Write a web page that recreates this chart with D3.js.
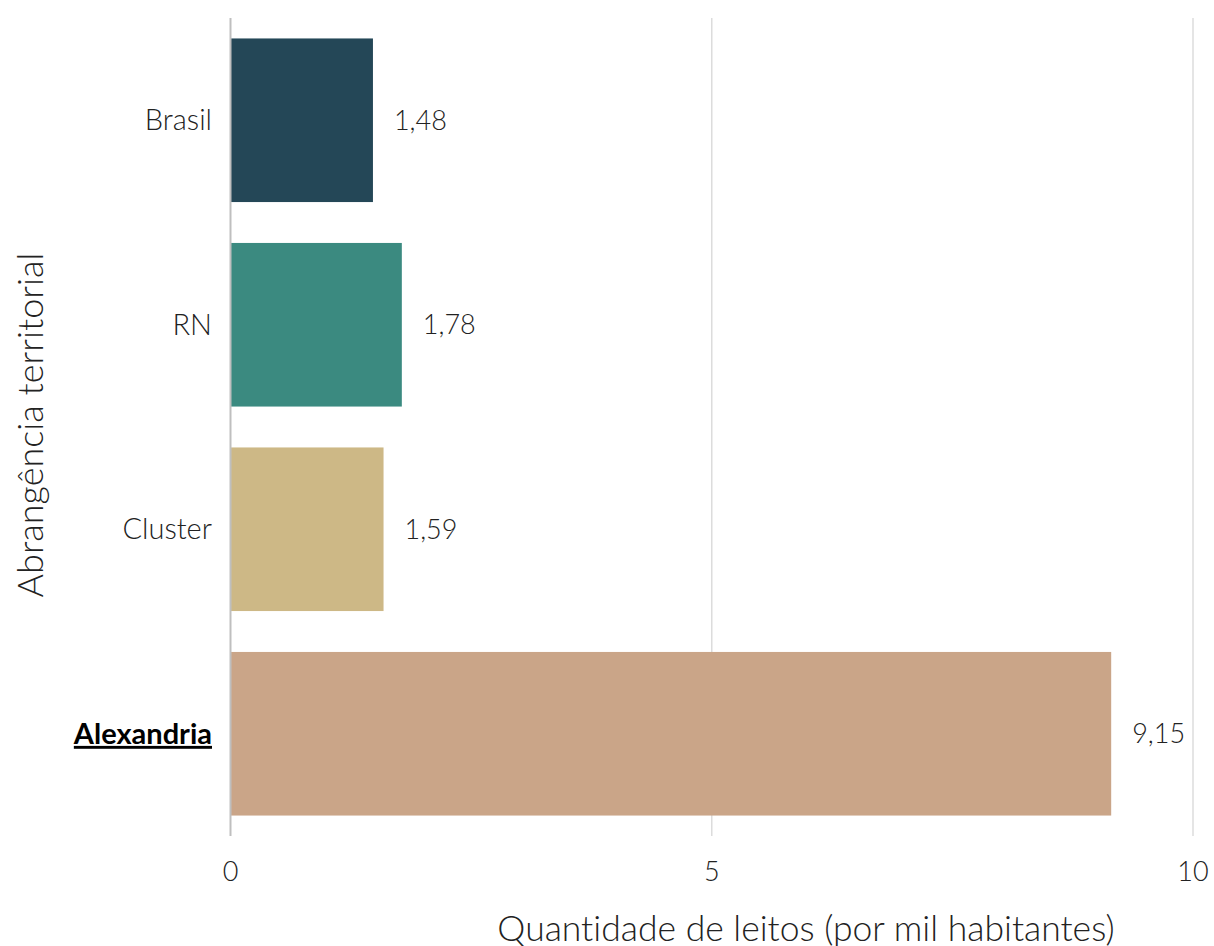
<!DOCTYPE html>
<html><head><meta charset="utf-8">
<script src="https://cdn.jsdelivr.net/npm/d3@7"></script>
<style>body{margin:0;background:#fff}svg{font-family:Lato,sans-serif;font-weight:300;font-variant-ligatures:none}</style>
</head><body><svg id="c" width="1214" height="946"></svg>
<script>
const categories = ["Brasil","RN","Cluster","Alexandria"];
const values = [1.48,1.78,1.59,9.15];
const valueLabels = ["1,48","1,78","1,59","9,15"];
const colors = ["#244757","#3b8a80","#cdb886","#caa588"];
const xTicks = [0,5,10];

const svg = d3.select("#c");
const m = {l:230.5, r:1193, t:18, b:836};
const x = d3.scaleLinear().domain([0,10]).range([m.l,m.r]);
const y = d3.scaleBand().domain(categories).range([m.t,m.b]).paddingInner(0.2).paddingOuter(0.1);

svg.append("g").selectAll("line").data(xTicks.filter(d=>d>0)).join("line")
  .attr("x1",d=>x(d)).attr("x2",d=>x(d)).attr("y1",m.t).attr("y2",m.b)
  .attr("stroke","#dcdcdc").attr("stroke-width",1.5);

svg.append("g").selectAll("rect").data(categories).join("rect")
  .attr("x",x(0)).attr("y",d=>y(d)).attr("height",y.bandwidth())
  .attr("width",(d,i)=>x(values[i])-x(0)).attr("fill",(d,i)=>colors[i]);

svg.append("line").attr("x1",x(0)).attr("x2",x(0)).attr("y1",m.t).attr("y2",m.b)
  .attr("stroke","#bfbfbf").attr("stroke-width",2);

svg.append("g").selectAll("text").data(categories).join("text")
  .attr("x",(d,i)=>x(values[i])+21).attr("y",d=>y(d)+y.bandwidth()/2)
  .attr("dy","0.35em").attr("font-size",27).attr("fill","#222")
  .text((d,i)=>valueLabels[i]);

svg.append("g").selectAll("text").data(categories).join("text")
  .attr("x",212).attr("y",d=>y(d)+y.bandwidth()/2).attr("dy","0.35em")
  .attr("text-anchor","end")
  .attr("font-size",29)
  .attr("fill",d=>d==="Alexandria"?"#000":"#222")
  .attr("font-weight",d=>d==="Alexandria"?700:300)
  .attr("text-decoration",d=>d==="Alexandria"?"underline":"none")
  .text(d=>d);

svg.append("g").selectAll("text").data(xTicks).join("text")
  .attr("x",d=>x(d)).attr("y",872).attr("dy","0.35em").attr("text-anchor","middle")
  .attr("font-size",27).attr("fill","#222").text(d=>d);

svg.append("text").attr("x",806).attr("y",929).attr("dy","0.35em").attr("text-anchor","middle")
  .attr("font-size",35.5).attr("fill","#222").text("Quantidade de leitos (por mil habitantes)");

svg.append("text").attr("transform","translate(30,425) rotate(-90)").attr("dy","0.35em")
  .attr("text-anchor","middle").attr("font-size",36).attr("fill","#222").text("Abrangência territorial");
</script></body></html>
